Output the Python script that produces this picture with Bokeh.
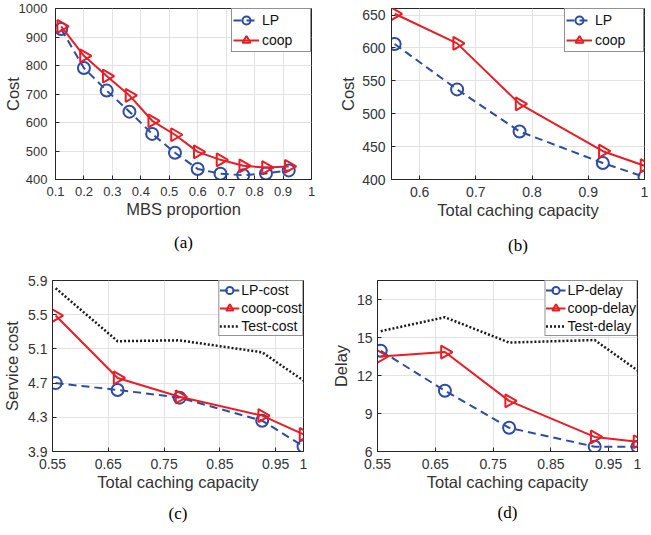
import numpy as np
from bokeh.plotting import figure
from bokeh.models import FixedTicker, Legend, LegendItem, Range1d, Title
from bokeh.layouts import row, column
from bokeh.embed import file_html
from bokeh.resources import INLINE

# ---------------- data ----------------
mbs_prop = [0.12, 0.2, 0.28, 0.36, 0.44, 0.52, 0.6, 0.68, 0.76, 0.84, 0.92]
a_lp = [928, 791, 712, 638, 560, 494, 437, 420, 415, 421, 432]
a_coop = [937, 834, 763, 695, 606, 557, 497, 469, 448, 442, 446]

capacity = [0.5556, 0.6667, 0.7778, 0.9259, 1.0]
b_lp = [606, 537, 473, 425, 404]
b_coop = [652, 607, 515, 443, 421]

c_lp = [4.70, 4.62, 4.53, 4.26, 3.96]
c_coop = [5.49, 4.76, 4.54, 4.32, 4.10]
c_test = [5.81, 5.19, 5.20, 5.06, 4.73]

d_lp = [13.95, 10.8, 7.87, 6.38, 6.38]
d_coop = [13.5, 13.85, 10.0, 7.15, 6.77]
d_test = [15.5, 16.6, 14.6, 14.8, 12.4]

a_xticks = [0.1, 0.2, 0.3, 0.4, 0.5, 0.6, 0.7, 0.8, 0.9, 1.0]
a_yticks = [400, 500, 600, 700, 800, 900, 1000]
b_xticks = [0.6, 0.7, 0.8, 0.9, 1.0]
b_yticks = [400, 450, 500, 550, 600, 650]
cd_xticks = [0.55, 0.65, 0.75, 0.85, 0.95, 1.0]
c_yticks = [3.9, 4.3, 4.7, 5.1, 5.5, 5.9]
d_yticks = [6, 9, 12, 15, 18]

FONT = "Liberation Sans"
SERIF = "Liberation Serif"
AX = "#262626"
TXT = "#333333"
GRID = "#e2e2e2"
BLUE = "#2c4ca8"
RED = "#ec1c24"
BLK = "#1a1a1a"


def style_axis(ax, ticks, tick_size, standoff, label_standoff):
    ax.ticker = FixedTicker(ticks=ticks)
    ax.major_label_overrides = {1.0: "1"}
    ax.major_label_text_font = FONT
    ax.major_label_text_font_size = tick_size
    ax.major_label_text_color = TXT
    ax.major_label_standoff = standoff
    ax.axis_label_text_font = FONT
    ax.axis_label_text_font_size = "16.5px"
    ax.axis_label_text_font_style = "normal"
    ax.axis_label_text_color = TXT
    ax.axis_label_standoff = label_standoff
    ax.axis_line_color = AX
    ax.major_tick_line_color = AX
    ax.major_tick_in = 4
    ax.major_tick_out = 0
    ax.minor_tick_line_color = None


def base(w, h, xr, yr, xt, yt, xlab, ylab, bl, br, bt, bb, tick_size="14px",
         ysoff=6, ylsoff=-4):
    p = figure(width=w, height=h, x_range=Range1d(*xr), y_range=Range1d(*yr),
               output_backend="svg", toolbar_location=None,
               min_border_left=bl, min_border_right=br,
               min_border_top=bt, min_border_bottom=bb)
    p.outline_line_color = AX
    p.outline_line_width = 1
    p.outline_line_alpha = 1
    p.background_fill_color = "white"
    p.border_fill_color = "white"
    style_axis(p.xaxis[0], xt, tick_size, 7, 1)
    style_axis(p.yaxis[0], yt, tick_size, ysoff, ylsoff)
    p.xaxis[0].axis_label = xlab
    p.yaxis[0].axis_label = ylab
    p.xgrid.grid_line_color = GRID
    p.ygrid.grid_line_color = GRID
    p.xgrid.grid_line_width = 1
    p.ygrid.grid_line_width = 1
    return p


def series(p, x, y, color, dash, marker, size, angle=0.0):
    l = p.line(x, y, line_color=color, line_width=2, line_dash=dash)
    s = p.scatter(x, y, marker=marker, size=size, angle=angle,
                  line_color=color, line_width=2, fill_color=None)
    return [l, s]


def add_legend(p, items, pad, gw, gh, lw, standoff):
    lg = Legend(items=items, location="top_right", margin=0, padding=pad,
                spacing=0, glyph_width=gw, glyph_height=gh, label_height=gh,
                label_width=lw, label_standoff=standoff,
                label_text_font=FONT, label_text_font_size="14px",
                label_text_color="#111111",
                border_line_color=AX, border_line_width=1,
                background_fill_color="white", background_fill_alpha=1)
    p.add_layout(lg)


def caption(p, text, standoff):
    p.add_layout(Title(text=text, align="center", vertical_align="bottom",
                       standoff=standoff, text_font=SERIF,
                       text_font_size="17px", text_font_style="normal",
                       text_color="black"), "below")


TRI = -np.pi / 2
TOP_H = 270
BOT_H = 265

# (a)
pa = base(325, TOP_H, (0.1, 1.0), (400, 1000), a_xticks, a_yticks,
          "MBS proportion", "Cost", 55, 14, 8, TOP_H - 183,
          tick_size="13px", ysoff=8, ylsoff=-6)
ra1 = series(pa, mbs_prop, a_lp, BLUE, "8 5", "circle", 12)
ra2 = series(pa, mbs_prop, a_coop, RED, "solid", "triangle", 13, TRI)
add_legend(pa, [LegendItem(label="LP", renderers=ra1),
                LegendItem(label="coop", renderers=ra2)], 1, 26, 20, 47, 3)
caption(pa, "(a)", 20)

# (b)
pb = base(326, TOP_H, (0.55, 1.0), (400, 660), b_xticks, b_yticks,
          "Total caching capacity", "Cost", 66, 7, 6, TOP_H - 179, ysoff=6, ylsoff=2)
rb1 = series(pb, capacity, b_lp, BLUE, "8 5", "circle", 12)
rb2 = series(pb, capacity, b_coop, RED, "solid", "triangle", 13, TRI)
add_legend(pb, [LegendItem(label="LP", renderers=rb1),
                LegendItem(label="coop", renderers=rb2)], 1, 26, 20, 47, 3)
caption(pb, "(b)", 24)

# (c)
pc = base(325, BOT_H, (0.55, 1.0), (3.9, 5.9), cd_xticks, c_yticks,
          "Total caching capacity", "Service cost", 49, 22, 10, 84, ysoff=5, ylsoff=4)
rc3 = pc.line(capacity, c_test, line_color=BLK, line_width=2.5, line_dash="2 2")
rc1 = series(pc, capacity, c_lp, BLUE, "8 5", "circle", 12)
rc2 = series(pc, capacity, c_coop, RED, "solid", "triangle", 13, TRI)
add_legend(pc, [LegendItem(label="LP-cost", renderers=rc1),
                LegendItem(label="coop-cost", renderers=rc2),
                LegendItem(label="Test-cost", renderers=[rc3])], 0, 20, 18, 57, 2)
caption(pc, "(c)", 16)

# (d)
pd_ = base(326, BOT_H, (0.55, 1.0), (6, 19.5), cd_xticks, d_yticks,
           "Total caching capacity", "Delay", 52, 14, 7, 83, ysoff=5, ylsoff=4)
rd3 = pd_.line(capacity, d_test, line_color=BLK, line_width=2.5, line_dash="2 2")
rd1 = series(pd_, capacity, d_lp, BLUE, "8 5", "circle", 12)
rd2 = series(pd_, capacity, d_coop, RED, "solid", "triangle", 13, TRI)
add_legend(pd_, [LegendItem(label="LP-delay", renderers=rd1),
                 LegendItem(label="coop-delay", renderers=rd2),
                 LegendItem(label="Test-delay", renderers=[rd3])], 0, 20, 18, 62, 2)
caption(pd_, "(d)", 15)

layout = column(row(pa, pb), row(pc, pd_))

open("out.html", "w").write(file_html(layout, INLINE))
